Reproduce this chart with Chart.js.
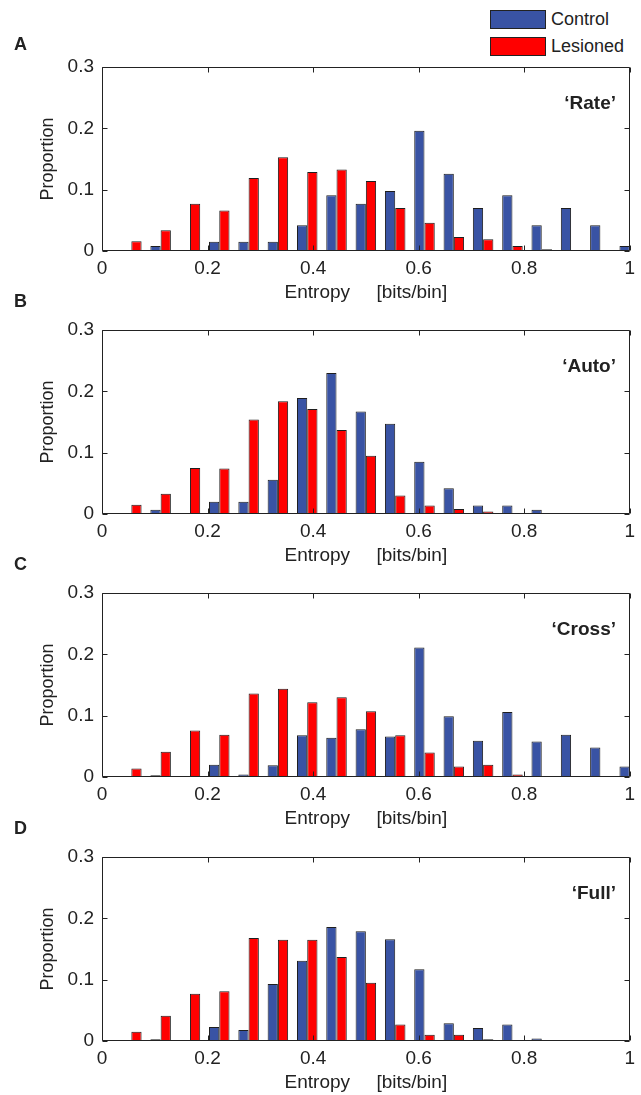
<!DOCTYPE html>
<html>
<head>
<meta charset="utf-8">
<script src="https://cdn.jsdelivr.net/npm/chart.js@4.4.1/dist/chart.umd.min.js"></script>
<style>
  html, body { margin: 0; padding: 0; background: #fff; overflow: hidden; }
  body { width: 641px; height: 1095px; position: relative; font-family: "Liberation Sans", Arial, sans-serif; color: #222; }
  .panel { position: absolute; left: 0; width: 641px; height: 310px; }
  .letter { position: absolute; left: 14px; font-weight: bold; font-size: 18px; line-height: 22px; height: 22px; }
  .name { position: absolute; right: 25px; font-weight: bold; font-size: 19px; line-height: 22px; height: 22px; }
  .lg-box { position: absolute; left: 490px; width: 54px; height: 17px; border: 1px solid #222; }
  .lg-text { position: absolute; left: 551px; font-size: 18px; line-height: 20px; }
</style>
</head>
<body>
<div id="legend"></div>

<script>
// bin centres (entropy, bits/bin)
var binCenters = [0.0556, 0.1111, 0.1667, 0.2222, 0.2778, 0.3333, 0.3889, 0.4444, 0.5,
                  0.5556, 0.6111, 0.6667, 0.7222, 0.7778, 0.8333, 0.8889, 0.9444, 1];

var rateControl  = [0, 0.008, 0, 0.015, 0.015, 0.015, 0.042, 0.091, 0.077, 0.098, 0.196, 0.126, 0.070, 0.091, 0.042, 0.070, 0.042, 0.008];
var rateLesioned = [0.016, 0.034, 0.077, 0.066, 0.119, 0.153, 0.129, 0.133, 0.114, 0.070, 0.046, 0.023, 0.019, 0.008, 0.003, 0, 0, 0];

var autoControl  = [0, 0.007, 0, 0.020, 0.020, 0.056, 0.189, 0.230, 0.167, 0.147, 0.085, 0.042, 0.014, 0.014, 0.007, 0, 0, 0];
var autoLesioned = [0.015, 0.033, 0.075, 0.074, 0.154, 0.184, 0.171, 0.137, 0.095, 0.030, 0.014, 0.008, 0.004, 0, 0, 0, 0, 0];

var crossControl  = [0, 0.003, 0, 0.020, 0.004, 0.019, 0.068, 0.064, 0.078, 0.066, 0.211, 0.099, 0.059, 0.106, 0.058, 0.069, 0.048, 0.017];
var crossLesioned = [0.014, 0.041, 0.076, 0.069, 0.136, 0.144, 0.122, 0.130, 0.107, 0.068, 0.040, 0.017, 0.020, 0.004, 0, 0, 0, 0];

var fullControl  = [0.001, 0.003, 0, 0.023, 0.018, 0.093, 0.131, 0.186, 0.179, 0.166, 0.117, 0.029, 0.021, 0.027, 0.004, 0, 0, 0];
var fullLesioned = [0.015, 0.041, 0.077, 0.081, 0.168, 0.165, 0.165, 0.137, 0.095, 0.027, 0.010, 0.010, 0.003, 0, 0, 0, 0, 0];

var xTicks = [0, 0.2, 0.4, 0.6, 0.8, 1];
var yTicks = [0, 0.1, 0.2, 0.3];

var seriesLabels = ['Control', 'Lesioned'];
var seriesColors = ['#3953a4', '#ff0000'];

var panels = [
    { letter: 'A', name: '\u2018Rate\u2019',  control: rateControl,  lesioned: rateLesioned },
    { letter: 'B', name: '\u2018Auto\u2019',  control: autoControl,  lesioned: autoLesioned },
    { letter: 'C', name: '\u2018Cross\u2019', control: crossControl, lesioned: crossLesioned },
    { letter: 'D', name: '\u2018Full\u2019',  control: fullControl,  lesioned: fullLesioned }
];
var panelTops = [0, 263, 526, 790];
var letterTops = [33, 290, 553, 817];

var fontFamily = '"Liberation Sans", Arial, sans-serif';

// axes box with inward ticks, like the original
var boxPlugin = {
    id: 'axesBox',
    afterDraw: function (chart) {
        var ctx = chart.ctx, a = chart.chartArea;
        var xs = chart.scales.x, ys = chart.scales.y;
        var l = Math.round(a.left) + 0.5, r = Math.round(a.right) - 0.5;
        var t = Math.round(a.top) + 0.5, b = Math.round(a.bottom) - 0.5;
        ctx.save();
        ctx.strokeStyle = '#222222';
        ctx.lineWidth = 1;
        ctx.beginPath();
        ctx.moveTo(l, t); ctx.lineTo(r, t); ctx.lineTo(r, b); ctx.lineTo(l, b); ctx.closePath();
        xTicks.forEach(function (v) {
            var px = Math.round(xs.getPixelForValue(v)) + 0.5;
            ctx.moveTo(px, b); ctx.lineTo(px, b - 5);
            ctx.moveTo(px, t); ctx.lineTo(px, t + 5);
        });
        yTicks.forEach(function (v) {
            var py = Math.round(ys.getPixelForValue(v)) + 0.5;
            ctx.moveTo(l, py); ctx.lineTo(l + 5, py);
            ctx.moveTo(r, py); ctx.lineTo(r - 5, py);
        });
        ctx.stroke();
        ctx.restore();
    }
};

function toPoints(values) {
    return values.map(function (v, i) { return { x: binCenters[i], y: v }; });
}

function tickText(v) {
    return String(Math.round(v * 10) / 10);
}

panels.forEach(function (p, i) {
    var top = panelTops[i];
    var wrap = document.createElement('div');
    wrap.className = 'panel';
    wrap.style.top = top + 'px';
    var canvas = document.createElement('canvas');
    canvas.width = 641;
    canvas.height = 310;
    wrap.appendChild(canvas);
    document.body.appendChild(wrap);

    var letter = document.createElement('div');
    letter.className = 'letter';
    letter.textContent = p.letter;
    letter.style.top = letterTops[i] + 'px';
    document.body.appendChild(letter);

    var name = document.createElement('div');
    name.className = 'name';
    name.textContent = p.name;
    name.style.top = (top + 67 + 36 - 11) + 'px';
    document.body.appendChild(name);

    new Chart(canvas.getContext('2d'), {
        type: 'bar',
        data: {
            datasets: [{
                label: seriesLabels[0],
                data: toPoints(p.control),
                backgroundColor: seriesColors[0],
                borderColor: '#1e1e1e',
                borderWidth: 1,
                borderSkipped: false
            }, {
                label: seriesLabels[1],
                data: toPoints(p.lesioned),
                backgroundColor: seriesColors[1],
                borderColor: '#1e1e1e',
                borderWidth: 1,
                borderSkipped: false
            }]
        },
        options: {
            responsive: false,
            animation: false,
            devicePixelRatio: 1,
            categoryPercentage: 0.7,
            barPercentage: 1,
            layout: { padding: { left: 0, right: 9, top: 67, bottom: 0 } },
            plugins: {
                legend: { display: false },
                tooltip: { enabled: false }
            },
            scales: {
                x: {
                    type: 'linear',
                    min: 0,
                    max: 1,
                    offset: false,
                    grid: { display: false, drawTicks: false, offset: false },
                    border: { display: false },
                    ticks: {
                        stepSize: 0.2,
                        padding: 6,
                        color: '#222',
                        font: { family: fontFamily, size: 19 },
                        callback: tickText
                    },
                    title: {
                        display: true,
                        text: 'Entropy     [bits/bin]',
                        color: '#222',
                        font: { family: fontFamily, size: 19 },
                        padding: { top: 0, bottom: 6 }
                    },
                    afterFit: function (s) { s.height = 59; }
                },
                y: {
                    min: 0,
                    max: 0.3,
                    grid: { display: false, drawTicks: false },
                    border: { display: false },
                    ticks: {
                        stepSize: 0.1,
                        padding: 8,
                        color: '#222',
                        font: { family: fontFamily, size: 19 },
                        callback: tickText
                    },
                    title: {
                        display: true,
                        text: 'Proportion',
                        color: '#222',
                        font: { family: fontFamily, size: 18 },
                        padding: { top: 37, bottom: 0 }
                    },
                    afterFit: function (s) { s.width = 102; }
                }
            }
        },
        plugins: [boxPlugin]
    });
});

// legend, top right of panel A
var legend = document.getElementById('legend');
seriesLabels.forEach(function (lbl, i) {
    var box = document.createElement('div');
    box.className = 'lg-box';
    box.style.top = (10 + i * 27) + 'px';
    box.style.background = seriesColors[i];
    legend.appendChild(box);
    var t = document.createElement('div');
    t.className = 'lg-text';
    t.style.top = (9 + i * 27) + 'px';
    t.textContent = lbl;
    legend.appendChild(t);
});
</script>
</body>
</html>
